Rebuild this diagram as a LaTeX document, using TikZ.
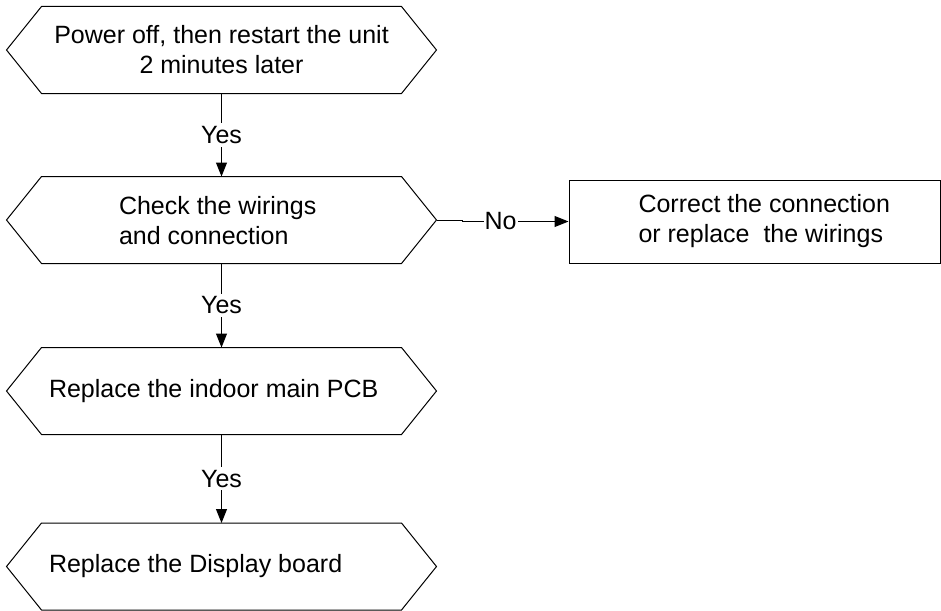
\documentclass[tikz,border=0pt]{standalone}
\usepackage{fontspec}
\setmainfont{Liberation Sans}
\usetikzlibrary{arrows.meta}
\newcommand\hexoutline[1]{\draw (#1.west) -- ([xshift=35pt]#1.north west) -- ([xshift=-35pt]#1.north east) -- (#1.east) -- ([xshift=-35pt]#1.south east) -- ([xshift=35pt]#1.south west) -- cycle;}
\begin{document}
\begin{tikzpicture}[x=1pt,y=-1pt,
  font=\fontsize{25}{30}\selectfont, line width=1pt,
  hexbox/.style={minimum width=429pt, minimum height=86pt, inner sep=0pt, align=center},
  txt/.style={inner sep=0pt, align=left},
  lbl/.style={fill=white, inner sep=3pt},
  arr/.style={-{Triangle[length=14pt,width=11pt]}}]
\useasboundingbox (0,0) rectangle (941,610);

\node[hexbox] (h1) at (221.5,50) {Power off, then restart the unit\\2 minutes later};
\node[hexbox] (h2) at (221.5,220) {};
\node[hexbox] (h3) at (221.5,391) {};
\node[hexbox] (h4) at (221.5,566.5) {};
\node[txt, anchor=west] (t2) at ([xshift=112pt,yshift=-1pt]h2.west) {Check the wirings\\and connection};
\node[txt, anchor=west] (t3) at ([xshift=42pt]h3.west) {Replace the indoor main PCB};
\node[txt, anchor=west] (t4) at ([xshift=42pt]h4.west) {Replace the Display board};

\hexoutline{h1}
\hexoutline{h2}
\hexoutline{h3}
\hexoutline{h4}

\node[draw, minimum width=371pt, minimum height=83pt, inner sep=0pt] (b) at (754.5,221.5) {};
\node[txt, anchor=west] (bt) at (638,221.5) {Correct the connection\\or replace\ \ the wirings};

\draw[arr] (h1.south) -- node[lbl] {Yes} (h2.north);
\draw[arr] (h2.south) -- node[lbl] {Yes} (h3.north);
\draw[arr] (h3.south) -- node[lbl] {Yes} (h4.north);
\draw[arr] (h2.east) -- ++(26pt,0) coordinate (j) |- node[lbl, inner sep=1pt, pos=0.68] {No} (b.west);
\end{tikzpicture}
\end{document}
